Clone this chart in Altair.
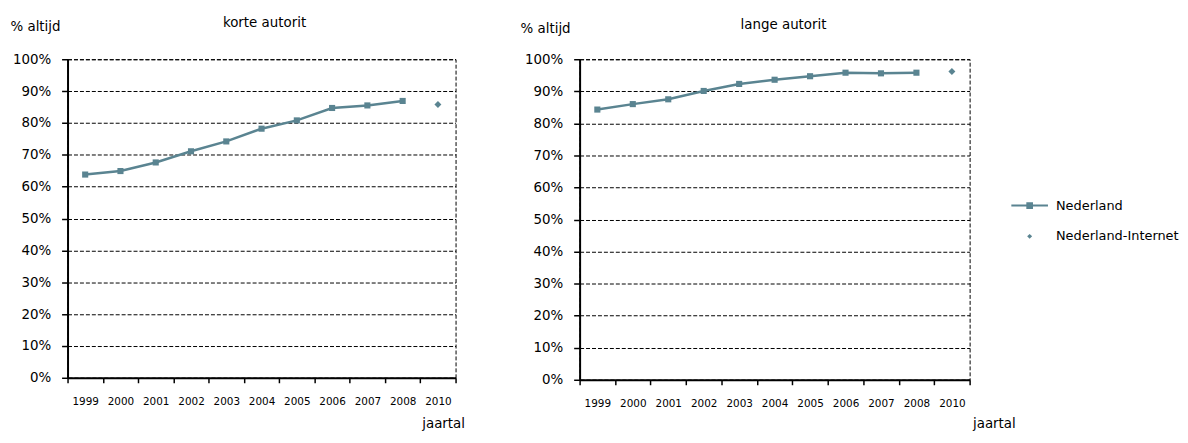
import altair as alt
import pandas as pd

years = ["1999", "2000", "2001", "2002", "2003", "2004", "2005", "2006", "2007", "2008", "2010"]
nl_years = years[:10]
korte_nl = [0.638, 0.649, 0.676, 0.711, 0.742, 0.782, 0.808, 0.847, 0.855, 0.869]
korte_int = [0.858]
lange_nl = [0.843, 0.860, 0.875, 0.901, 0.923, 0.936, 0.947, 0.958, 0.956, 0.958]
lange_int = [0.962]
series_names = ["Nederland", "Nederland-Internet"]

COL = "#5A8491"
FONT = "DejaVu Sans"

LEG_LINE = "M-5.5,-0.3H5.5V0.3H-5.5Z M-1,-1H1V1H-1Z"
LEG_DIAMOND = "M0,-0.75L0.75,0L0,0.75L-0.75,0Z"


def panel(title, nl_vals, int_vals, width, height, title_dx, jx, jy, ytx, yty, with_legend):
    nl = pd.DataFrame({"jaar": nl_years, "v": nl_vals, "serie": series_names[0]})
    it = pd.DataFrame({"jaar": ["2010"], "v": int_vals, "serie": series_names[1]})

    xenc = alt.X(
        "jaar:O",
        bandPosition=0.5,
        scale=alt.Scale(type="band", domain=years, paddingInner=0, paddingOuter=0),
        axis=alt.Axis(
            title="jaartal", labelAngle=0, tickBand="extent", tickSize=5,
            tickColor="black", tickWidth=1.5, domainColor="black", domainWidth=2,
            labelPadding=14, labelFontSize=10.5, labelFont=FONT, labelColor="black",
            titleFont=FONT, titleFontSize=13.5, titleFontWeight="normal", titleColor="black",
            titleAnchor="start", titleAlign="right", titleBaseline="middle",
            titleX=jx, titleY=jy, grid=False,
        ),
    )
    yenc = alt.Y(
        "v:Q",
        scale=alt.Scale(domain=[0, 1], nice=False),
        axis=alt.Axis(
            title="% altijd", format=".0%", values=[i / 10 for i in range(11)],
            grid=True, gridColor="black", gridDash=[4, 2], gridWidth=1, gridOpacity=1,
            domainColor="black", domainWidth=2, tickColor="black", tickWidth=1.5, tickSize=6,
            labelPadding=11, labelFontSize=13.5, labelFont=FONT, labelColor="black",
            titleFont=FONT, titleFontSize=13.5, titleFontWeight="normal", titleColor="black",
            titleAngle=0, titleAlign="left", titleBaseline="middle", titleX=ytx, titleY=yty,
        ),
    )

    line = alt.Chart(nl).mark_line(color=COL, strokeWidth=2.5).encode(x=xenc, y=yenc)
    pts = alt.Chart(nl).mark_point(shape="square", filled=True, size=38, opacity=1, color=COL).encode(x=xenc, y=yenc)
    if with_legend:
        leg = alt.Legend(
            title=None, orient="none", legendX=447, legendY=141, labelFontSize=13,
            labelFont=FONT, labelColor="black", labelOffset=20, rowPadding=17,
            symbolSize=45, padding=0, symbolStrokeWidth=0, symbolOpacity=1,
        )
        dia = alt.Chart(it).mark_point(filled=True, size=87, opacity=1).encode(
            x=xenc, y=yenc,
            color=alt.Color("serie:N", scale=alt.Scale(domain=series_names, range=[COL, COL]), legend=leg),
            shape=alt.Shape("serie:N", scale=alt.Scale(domain=series_names, range=[LEG_LINE, LEG_DIAMOND]), legend=leg),
        )
    else:
        dia = alt.Chart(it).mark_point(shape="diamond", filled=True, size=49, opacity=1, color=COL).encode(x=xenc, y=yenc)

    return alt.layer(line, pts, dia).properties(
        width=width, height=height,
        title=alt.TitleParams(title, anchor="middle", frame="group", fontSize=13.5, font=FONT,
                              fontWeight="normal", color="black", offset=-10, dx=title_dx),
    )


left = panel("korte autorit", korte_nl, korte_int, 391, 321, 3, 400, 46, -58, -33, False)
right = panel("lange autorit", lange_nl, lange_int, 393, 323, 9, 439, 44, -60, -31, True)

chart = alt.hconcat(left, right, spacing=54).resolve_scale(
    color="independent", shape="independent"
).configure_view(
    stroke="black", strokeDash=[4, 2], strokeWidth=1
).properties(
    padding={"left": 1, "top": 6, "right": 0, "bottom": 0}, background="white"
)

chart.save("out.html", embed_options={"renderer": "svg", "actions": False})
